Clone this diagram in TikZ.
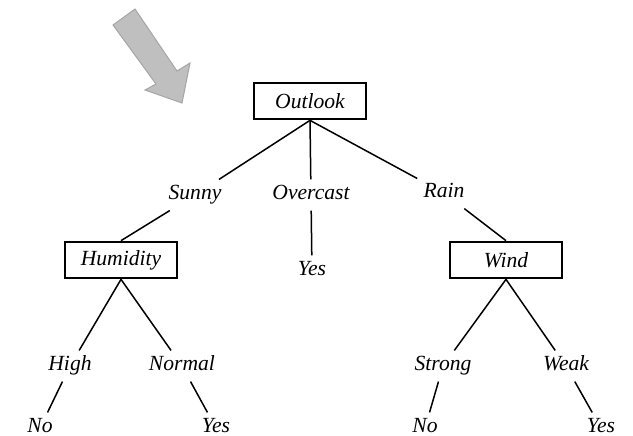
\documentclass[tikz,border=0pt]{standalone}
\usepackage{fontspec}
\setmainfont{Liberation Serif}

\begin{document}
\begin{tikzpicture}[
  x=0.5pt, y=-0.5pt,
  font=\fontsize{10.8}{13}\selectfont\itshape,
  attr/.style={draw, line width=1.35pt, minimum width=56pt, minimum height=18pt, inner sep=2pt},
  val/.style={inner sep=3pt, text height=1.5ex, text depth=0.5ex},
  leaf/.style={val},
  branch/.style={line width=0.75pt},
  bigarrow/.style={fill=gray!50, draw=gray!70, line width=0.5pt}
]
\useasboundingbox (0,0) rectangle (633,435);
% the pointer
\draw[bigarrow] (113,25) -- (135,9) -- (177,71) -- (190,63) -- (182,103) -- (145,90) -- (156,84) -- cycle;
% root
\node[attr] (outlook) at (310,101) {Outlook};
\node[val] (sunny) at (195,195) {Sunny};
\node[val] (overcast) at (311,195) {Overcast};
\node[val] (rain) at (444,193) {Rain};
\draw[branch] (outlook.south) -- (sunny);
\draw[branch] (outlook.south) -- (overcast);
\draw[branch] (outlook.south) -- (rain);
% second level
\node[attr] (humidity) at (121,260) {Humidity};
\node[leaf] (yesA) at (312,271) {Yes};
\node[attr] (wind) at (506,260) {Wind};
\draw[branch] (sunny) -- (humidity.north);
\draw[branch] (overcast) -- (yesA);
\draw[branch] (rain) -- (wind.north);
% humidity branch
\node[val] (high) at (70,366) {High};
\node[val] (normal) at (182,366) {Normal};
\node[leaf] (noA) at (40,428) {No};
\node[leaf] (yesB) at (216,428) {Yes};
\draw[branch] (humidity.south) -- (high);
\draw[branch] (humidity.south) -- (normal);
\draw[branch] (high) -- (noA);
\draw[branch] (normal) -- (yesB);
% wind branch
\node[val] (strong) at (443,366) {Strong};
\node[val] (weak) at (566,366) {Weak};
\node[leaf] (noB) at (425,428) {No};
\node[leaf] (yesC) at (601,428) {Yes};
\draw[branch] (wind.south) -- (strong);
\draw[branch] (wind.south) -- (weak);
\draw[branch] (strong) -- (noB);
\draw[branch] (weak) -- (yesC);
\end{tikzpicture}
\end{document}
